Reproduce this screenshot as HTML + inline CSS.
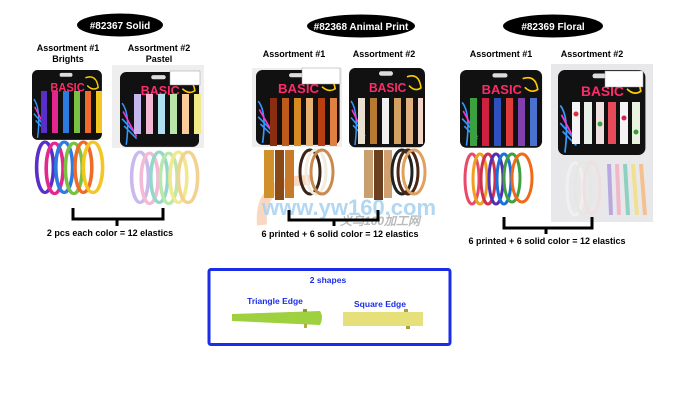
<!DOCTYPE html>
<html><head><meta charset="utf-8"><style>
html,body{margin:0;padding:0;background:#fff;}
svg{display:block;}
text{font-family:"Liberation Sans",Arial,sans-serif;font-weight:bold;}
</style></head><body>
<svg width="688" height="410" viewBox="0 0 688 410" xmlns="http://www.w3.org/2000/svg">
<defs>
<g id="card">
  <rect x="0" y="0" width="76" height="72" rx="6" fill="#111"/>
  <rect x="30" y="3" width="14" height="4" rx="2" fill="#ddd"/>
  <text x="20" y="22" font-size="12" fill="#ff2a6a" font-weight="normal">BASIC</text>
  <path d="M2 30 Q10 40 6 70 M2 45 L14 58 M4 52 L16 64" stroke="#39f" stroke-width="1.5" fill="none"/>
  <path d="M3 38 L16 62" stroke="#f3c" stroke-width="1.5"/>
  <path d="M58 8 Q70 4 72 18 Q66 22 60 16" stroke="#fc0" stroke-width="1.5" fill="none"/>
</g>
<g id="bandsB">
  <ellipse cx="10" cy="26" rx="7" ry="24" fill="none" stroke="#5a2fc8" stroke-width="3"/>
  <ellipse cx="18" cy="27" rx="7" ry="24" fill="none" stroke="#e2278f" stroke-width="3"/>
  <ellipse cx="26" cy="26" rx="7" ry="24" fill="none" stroke="#2c7be0" stroke-width="3"/>
  <ellipse cx="34" cy="27" rx="7" ry="24" fill="none" stroke="#7ac143" stroke-width="3"/>
  <ellipse cx="42" cy="26" rx="7" ry="24" fill="none" stroke="#f06a2a" stroke-width="3"/>
  <ellipse cx="50" cy="26" rx="8" ry="24" fill="none" stroke="#f3c623" stroke-width="3"/>
</g>
</defs>

<!-- watermark -->
<path d="M262 225 Q258 180 310 180" stroke="#f9d7c0" stroke-width="10" fill="none"/>
<text x="262" y="215" font-size="22" fill="#a9d3f2" opacity="0.9">www.yw160.com</text>
<text x="340" y="225" font-size="12" fill="#bbb" font-style="italic">义乌160加工网</text>

<!-- headers -->
<ellipse cx="120" cy="25" rx="43" ry="11.5" fill="#000"/>
<text x="120" y="29" font-size="10" fill="#fff" text-anchor="middle">#82367 Solid</text>
<ellipse cx="361" cy="26" rx="54" ry="11.5" fill="#000"/>
<text x="361" y="30" font-size="10" fill="#fff" text-anchor="middle">#82368 Animal Print</text>
<ellipse cx="553" cy="26" rx="50" ry="11.5" fill="#000"/>
<text x="553" y="30" font-size="10" fill="#fff" text-anchor="middle">#82369 Floral</text>

<g font-size="9" fill="#000" text-anchor="middle">
<text x="68" y="51">Assortment #1</text><text x="68" y="62">Brights</text>
<text x="159" y="51">Assortment #2</text><text x="159" y="62">Pastel</text>
<text x="294" y="57">Assortment #1</text>
<text x="384" y="57">Assortment #2</text>
<text x="501" y="57">Assortment #1</text>
<text x="592" y="57">Assortment #2</text>
</g>

<!-- left set -->
<use href="#card" x="32" y="70" width="76" height="72" transform="translate(32 70) scale(0.92 0.97) translate(-32 -70)"/>
<g transform="translate(33 85)">
  <rect x="8" y="6" width="6" height="42" fill="#5a2fc8"/><rect x="19" y="6" width="6" height="42" fill="#e2278f"/>
  <rect x="30" y="6" width="6" height="42" fill="#2c7be0"/><rect x="41" y="6" width="6" height="42" fill="#7ac143"/>
  <rect x="52" y="6" width="6" height="42" fill="#f06a2a"/><rect x="63" y="6" width="6" height="42" fill="#f3c623"/>
</g>
<use href="#bandsB" transform="translate(33 140) scale(1.2 1.05)"/>

<rect x="112" y="65" width="92" height="83" fill="#eeeeee"/>
<use href="#card" transform="translate(120 72) scale(1.04 1.04)"/>
<rect x="170" y="71" width="30" height="14" fill="#fff" stroke="#999" stroke-width="0.5"/>
<g transform="translate(126 88)">
  <rect x="8" y="6" width="7" height="40" fill="#c6b6ee"/><rect x="20" y="6" width="7" height="40" fill="#f4b7d3"/>
  <rect x="32" y="6" width="7" height="40" fill="#aee0f0"/><rect x="44" y="6" width="7" height="40" fill="#b7e6a8"/>
  <rect x="56" y="6" width="7" height="40" fill="#fbcc9a"/><rect x="68" y="6" width="7" height="40" fill="#f1e88a"/>
</g>
<g transform="translate(128 150) scale(1.2 1.05)" opacity="0.95">
  <ellipse cx="10" cy="26" rx="7" ry="24" fill="none" stroke="#c6b6ee" stroke-width="3"/>
  <ellipse cx="18" cy="27" rx="7" ry="24" fill="none" stroke="#f4b7d3" stroke-width="3"/>
  <ellipse cx="26" cy="26" rx="7" ry="24" fill="none" stroke="#8fd6c8" stroke-width="3"/>
  <ellipse cx="34" cy="27" rx="7" ry="24" fill="none" stroke="#b7e6a8" stroke-width="3"/>
  <ellipse cx="42" cy="26" rx="7" ry="24" fill="none" stroke="#f1e88a" stroke-width="3"/>
  <ellipse cx="50" cy="26" rx="8" ry="24" fill="none" stroke="#f3cf8a" stroke-width="3"/>
</g>

<!-- middle set -->
<rect x="252" y="68" width="90" height="79" fill="#eeeeee"/>
<use href="#card" transform="translate(256 70) scale(1.1 1.04)"/>
<rect x="302" y="68" width="38" height="16" fill="#fff" stroke="#999" stroke-width="0.5"/>
<g transform="translate(262 88)">
  <rect x="8" y="10" width="7" height="48" fill="#8a2d10"/><rect x="20" y="10" width="7" height="48" fill="#c05a1a"/>
  <rect x="32" y="10" width="7" height="48" fill="#d88a20"/><rect x="44" y="10" width="7" height="48" fill="#e8b070"/>
  <rect x="56" y="10" width="7" height="48" fill="#b84010"/><rect x="68" y="10" width="7" height="48" fill="#e08040"/>
</g>
<g transform="translate(262 148)">
  <rect x="2" y="2" width="10" height="48" fill="#d0902a"/><rect x="13" y="2" width="9" height="50" fill="#8b4a15"/>
  <rect x="23" y="2" width="9" height="48" fill="#c87a2a"/>
  <ellipse cx="48" cy="24" rx="10" ry="22" fill="none" stroke="#3a2418" stroke-width="3"/>
  <ellipse cx="54" cy="24" rx="10" ry="22" fill="none" stroke="#f0ece0" stroke-width="3"/>
  <ellipse cx="60" cy="24" rx="11" ry="22" fill="none" stroke="#c98a50" stroke-width="3"/>
</g>
<use href="#card" transform="translate(349 68) scale(1.0 1.1)"/>
<g transform="translate(350 90)">
  <rect x="8" y="8" width="7" height="46" fill="#e8e0d0"/><rect x="20" y="8" width="7" height="46" fill="#b87a30"/>
  <rect x="32" y="8" width="7" height="46" fill="#f0f0f0"/><rect x="44" y="8" width="7" height="46" fill="#d2a060"/>
  <rect x="56" y="8" width="7" height="46" fill="#e0b080"/><rect x="68" y="8" width="5" height="46" fill="#f2d6c8"/>
</g>
<g transform="translate(362 148)">
  <rect x="2" y="2" width="9" height="48" fill="#c8a070"/><rect x="12" y="2" width="9" height="50" fill="#6a4020"/>
  <rect x="22" y="2" width="8" height="48" fill="#d0a070"/>
  <ellipse cx="40" cy="24" rx="10" ry="22" fill="none" stroke="#222" stroke-width="3"/>
  <ellipse cx="46" cy="24" rx="10" ry="22" fill="none" stroke="#4a2818" stroke-width="3"/>
  <ellipse cx="52" cy="24" rx="11" ry="22" fill="none" stroke="#e0a060" stroke-width="3"/>
</g>

<!-- right set -->
<use href="#card" transform="translate(460 70) scale(1.08 1.08)"/>
<g transform="translate(464 90)">
  <rect x="6" y="8" width="7" height="48" fill="#3aa040"/><rect x="18" y="8" width="7" height="48" fill="#d02040"/>
  <rect x="30" y="8" width="7" height="48" fill="#3050c0"/><rect x="42" y="8" width="7" height="48" fill="#e03a3a"/>
  <rect x="54" y="8" width="7" height="48" fill="#8040b0"/><rect x="66" y="8" width="7" height="48" fill="#4a70d0"/>
</g>
<g transform="translate(462 152)">
  <ellipse cx="10" cy="27" rx="7" ry="25" fill="none" stroke="#e84a6a" stroke-width="3"/>
  <ellipse cx="18" cy="27" rx="7" ry="25" fill="none" stroke="#f0a020" stroke-width="3"/>
  <ellipse cx="26" cy="27" rx="7" ry="25" fill="none" stroke="#d03050" stroke-width="3"/>
  <ellipse cx="34" cy="27" rx="7" ry="25" fill="none" stroke="#5030b0" stroke-width="3"/>
  <ellipse cx="42" cy="27" rx="7" ry="25" fill="none" stroke="#1a70d8" stroke-width="3"/>
  <ellipse cx="50" cy="26" rx="8" ry="24" fill="none" stroke="#3fa040" stroke-width="3"/>
  <ellipse cx="60" cy="26" rx="10" ry="24" fill="none" stroke="#f06a1a" stroke-width="3"/>
</g>
<rect x="551" y="64" width="102" height="158" fill="#e8e8ea"/>
<use href="#card" transform="translate(558 70) scale(1.15 1.18)"/>
<rect x="605" y="71" width="38" height="16" fill="#fff" stroke="#999" stroke-width="0.5"/>
<g transform="translate(568 98)">
  <rect x="4" y="4" width="8" height="42" fill="#f4f4f4"/><rect x="16" y="4" width="8" height="42" fill="#e8f0e8"/>
  <rect x="28" y="4" width="8" height="42" fill="#f0e0e0"/><rect x="40" y="4" width="8" height="42" fill="#e84a5a"/>
  <rect x="52" y="4" width="8" height="42" fill="#f4f4f4"/><rect x="64" y="4" width="8" height="42" fill="#eaf2e0"/>
  <circle cx="8" cy="16" r="2.5" fill="#e03040"/><circle cx="32" cy="26" r="2.5" fill="#40a040"/><circle cx="56" cy="20" r="2.5" fill="#d02050"/><circle cx="68" cy="34" r="2.5" fill="#3a9a3a"/>
</g>
<g transform="translate(565 160)">
  <ellipse cx="10" cy="29" rx="8" ry="26" fill="none" stroke="#f0f0f0" stroke-width="3"/>
  <ellipse cx="18" cy="28" rx="8" ry="26" fill="none" stroke="#e4e8e4" stroke-width="3"/>
  <ellipse cx="27" cy="28" rx="8" ry="26" fill="none" stroke="#efe0e0" stroke-width="3"/>
  <path d="M44 4 L46 55 M52 4 L54 55 M60 4 L63 55 M68 4 L72 55 M76 4 L80 55" stroke-width="4" fill="none"/>
  <path d="M44 4 L46 55" stroke="#b8a8e0" stroke-width="4"/><path d="M52 4 L54 55" stroke="#f0b8c8" stroke-width="4"/>
  <path d="M60 4 L63 55" stroke="#8fd0c0" stroke-width="4"/><path d="M68 4 L72 55" stroke="#f0e090" stroke-width="4"/>
  <path d="M76 4 L80 55" stroke="#f4c090" stroke-width="4"/>
</g>

<!-- brackets -->
<g stroke="#000" stroke-width="3" fill="none">
  <path d="M73 208 V219 H163 V208 M117 219 V226"/>
  <path d="M289 210 V220 H378 V210 M334 220 V226"/>
  <path d="M504 217 V228 H592 V217 M546 228 V234"/>
</g>
<g font-size="9" fill="#000" text-anchor="middle">
<text x="110" y="236">2 pcs each color = 12 elastics</text>
<text x="340" y="237">6 printed + 6 solid color = 12 elastics</text>
<text x="547" y="244">6 printed + 6 solid color = 12 elastics</text>
</g>

<!-- shapes box -->
<rect x="209" y="269.5" width="241" height="75" fill="#fff" stroke="#1a2ee8" stroke-width="3" rx="2"/>
<g fill="#1a2ee8" font-size="8.5" text-anchor="middle">
<text x="328" y="283">2 shapes</text>
<text x="275" y="304">Triangle Edge</text>
<text x="380" y="307">Square Edge</text>
</g>
<path d="M232 314 L320 311 Q324 317 320 325 L232 321 Z" fill="#9ed040"/>
<rect x="303" y="309" width="4" height="3" fill="#8a9a30"/><rect x="304" y="324" width="3" height="4" fill="#b0b040"/>
<rect x="343" y="312" width="80" height="14" fill="#e6e07a"/>
<rect x="404" y="309" width="4" height="3" fill="#a8a040"/><rect x="406" y="326" width="4" height="3" fill="#a8a040"/>
</svg>
</body></html>
